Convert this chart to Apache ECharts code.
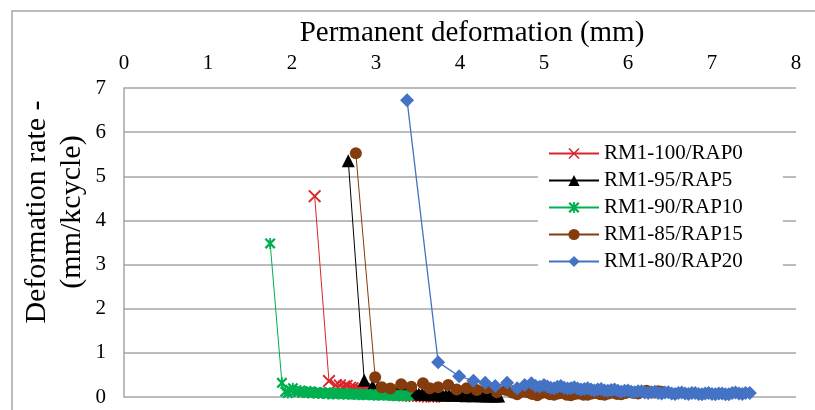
<!DOCTYPE html>
<html>
<head>
<meta charset="utf-8">
<script src="https://cdn.jsdelivr.net/npm/echarts@6/dist/echarts.min.js"></script>
<style>
  html, body { margin: 0; padding: 0; background: #fff; }
  #chart { width: 815px; height: 410px; }
</style>
</head>
<body>
<div id="chart"></div>
<script>
// series names (legend order)
const seriesNames = ['RM1-100/RAP0', 'RM1-95/RAP5', 'RM1-90/RAP10', 'RM1-85/RAP15', 'RM1-80/RAP20'];
const xTicks = [0, 1, 2, 3, 4, 5, 6, 7, 8];
const yTicks = [0, 1, 2, 3, 4, 5, 6, 7];

// [permanent deformation (mm), deformation rate (mm/kcycle)]
const rap0 = [[2.27,4.55],[2.44,0.36],[2.52,0.27],[2.57,0.26],[2.62,0.24],[2.65,0.25],[2.69,0.21],[2.72,0.2],[2.76,0.19],[2.8,0.17],[2.83,0.16],[2.87,0.14],[2.9,0.13],[2.94,0.12],[2.98,0.11],[3.02,0.1],[3.06,0.09],[3.1,0.08],[3.14,0.08],[3.18,0.07],[3.22,0.06],[3.26,0.05],[3.3,0.05],[3.34,0.04],[3.38,0.04],[3.42,0.03],[3.46,0.03],[3.5,0.03],[3.54,0.02],[3.58,0.02],[3.62,0.01],[3.66,0.01],[3.69,0.01]];
const rap5 = [[2.67,5.35],[2.86,0.38],[2.96,0.25],[3.02,0.21],[3.07,0.18],[3.11,0.16],[3.15,0.15],[3.19,0.14],[3.23,0.12],[3.27,0.11],[3.31,0.1],[3.35,0.1],[3.39,0.09],[3.43,0.08],[3.47,0.08],[3.51,0.07],[3.55,0.07],[3.59,0.06],[3.63,0.06],[3.67,0.06],[3.71,0.05],[3.75,0.05],[3.79,0.05],[3.83,0.04],[3.87,0.05],[3.91,0.04],[3.95,0.05],[3.99,0.04],[4.03,0.04],[4.07,0.03],[4.11,0.04],[4.15,0.03],[4.19,0.04],[4.23,0.03],[4.27,0.03],[4.31,0.02],[4.35,0.03],[4.39,0.02],[4.43,0.02],[4.46,0.02]];
const rap10 = [[1.74,3.48],[1.88,0.32],[1.92,0.12],[1.95,0.09],[1.98,0.16],[2.01,0.2],[2.04,0.13],[2.07,0.11],[2.1,0.15],[2.13,0.1],[2.16,0.12],[2.19,0.09],[2.22,0.13],[2.25,0.09],[2.28,0.11],[2.31,0.08],[2.34,0.1],[2.37,0.08],[2.4,0.1],[2.43,0.07],[2.46,0.09],[2.49,0.07],[2.52,0.09],[2.55,0.07],[2.58,0.08],[2.61,0.06],[2.64,0.08],[2.67,0.06],[2.7,0.07],[2.73,0.06],[2.76,0.07],[2.79,0.05],[2.82,0.06],[2.85,0.05],[2.88,0.06],[2.91,0.05],[2.94,0.06],[2.97,0.04],[3.0,0.05],[3.03,0.04],[3.06,0.05],[3.09,0.04],[3.12,0.05],[3.15,0.04],[3.18,0.04],[3.21,0.03],[3.24,0.04],[3.27,0.03],[3.3,0.04],[3.33,0.03],[3.36,0.03],[3.39,0.03]];
const rap15 = [[2.76,5.52],[2.99,0.45],[3.07,0.22],[3.17,0.19],[3.3,0.29],[3.42,0.23],[3.56,0.31],[3.64,0.2],[3.74,0.22],[3.86,0.27],[3.96,0.17],[4.08,0.2],[4.2,0.16],[4.32,0.2],[4.44,0.11],[4.55,0.16],[4.62,0.1],[4.68,0.06],[4.74,0.12],[4.8,0.11],[4.86,0.07],[4.92,0.04],[4.97,0.09],[5.02,0.1],[5.07,0.06],[5.12,0.05],[5.17,0.08],[5.22,0.09],[5.27,0.05],[5.32,0.04],[5.37,0.07],[5.42,0.08],[5.47,0.05],[5.52,0.05],[5.57,0.08],[5.62,0.09],[5.67,0.06],[5.72,0.05],[5.77,0.08],[5.82,0.1],[5.87,0.07],[5.92,0.06],[5.97,0.09],[6.02,0.11],[6.07,0.09],[6.12,0.08],[6.17,0.12],[6.22,0.14],[6.27,0.11],[6.32,0.1],[6.36,0.13],[6.4,0.12]];
const rap20 = [[3.37,6.72],[3.74,0.79],[3.99,0.47],[4.16,0.37],[4.3,0.32],[4.42,0.25],[4.56,0.32],[4.68,0.2],[4.77,0.27],[4.85,0.31],[4.9,0.25],[4.95,0.23],[5.0,0.27],[5.04,0.24],[5.08,0.21],[5.12,0.2],[5.16,0.23],[5.2,0.25],[5.24,0.21],[5.28,0.19],[5.32,0.2],[5.36,0.22],[5.4,0.19],[5.44,0.17],[5.48,0.18],[5.52,0.2],[5.56,0.17],[5.6,0.15],[5.64,0.17],[5.68,0.18],[5.72,0.15],[5.76,0.14],[5.8,0.16],[5.84,0.17],[5.88,0.14],[5.92,0.12],[5.96,0.14],[6.0,0.15],[6.04,0.12],[6.08,0.11],[6.12,0.13],[6.16,0.13],[6.2,0.1],[6.24,0.09],[6.28,0.11],[6.32,0.12],[6.36,0.09],[6.4,0.08],[6.44,0.1],[6.48,0.11],[6.52,0.08],[6.56,0.07],[6.6,0.09],[6.64,0.1],[6.68,0.08],[6.72,0.07],[6.76,0.09],[6.8,0.09],[6.84,0.07],[6.88,0.06],[6.92,0.08],[6.96,0.09],[7.0,0.07],[7.04,0.06],[7.08,0.08],[7.12,0.08],[7.16,0.06],[7.2,0.06],[7.24,0.09],[7.28,0.1],[7.32,0.08],[7.36,0.07],[7.4,0.09],[7.45,0.09]];

const FONT = "'Liberation Serif', 'Times New Roman', serif";
const crossPath = 'path://M0,1L1,0L5,4L9,0L10,1L6,5L10,9L9,10L5,6L1,10L0,9L4,5Z';
const starPath = 'path://M0,1.5L1.5,0L5,3.5L8.5,0L10,1.5L6.5,5L10,8.5L8.5,10L5,6.5L1.5,10L0,8.5L3.5,5Z M4.2,0L5.8,0L5.8,10L4.2,10Z';

function lineSeries(name, data, color, symbol, size, width, z) {
  return {
    name: name,
    type: 'line',
    data: data,
    symbol: symbol,
    symbolSize: size,
    showAllSymbol: true,
    z: z,
    lineStyle: { color: color, width: width },
    itemStyle: { color: color },
    emphasis: { disabled: true },
    animation: false,
  };
}

const chart = echarts.init(document.getElementById('chart'));
chart.setOption({
  animation: false,
  grid: { left: 124, right: 19, top: 88, bottom: 13 },
  graphic: [
    {
      type: 'rect',
      shape: { x: 12, y: 11, width: 830, height: 430 },
      style: { fill: 'none', stroke: '#a6a6a6', lineWidth: 1.5 },
      silent: true,
    },
    {
      type: 'text',
      x: 472, y: 33,
      style: { text: 'Permanent deformation (mm)', font: '29px ' + FONT, fill: '#000',
        align: 'center', verticalAlign: 'middle' },
    },
    {
      type: 'text',
      x: 20, y: 212,
      rotation: Math.PI / 2,
      style: {
        text: 'Deformation rate -\n(mm/kcycle)',
        font: '30px ' + FONT, fill: '#000',
        align: 'center', verticalAlign: 'top', lineHeight: 35,
      },
    },
  ],
  legend: {
    orient: 'vertical',
    left: 538, top: 135,
    padding: [8, 40, 8, 10],
    backgroundColor: '#fff',
    itemWidth: 50, itemHeight: 14, itemGap: 6,
    textStyle: { fontFamily: FONT, fontSize: 21, lineHeight: 20, color: '#000' },
    data: seriesNames,
  },
  xAxis: {
    type: 'value',
    position: 'top',
    min: 0, max: 8, interval: 1,
    axisLine: { show: false },
    axisTick: { show: false },
    splitLine: { show: false },
    axisLabel: { fontFamily: FONT, fontSize: 21, color: '#000', margin: 14,
      formatter: (v) => xTicks.includes(v) ? String(v) : '' },
  },
  yAxis: {
    type: 'value',
    min: 0, max: 7, interval: 1,
    axisLine: { show: true, lineStyle: { color: '#a6a6a6', width: 1.5 } },
    axisTick: { show: false },
    splitLine: { show: true, lineStyle: { color: '#a6a6a6', width: 1.5 } },
    axisLabel: { fontFamily: FONT, fontSize: 21, color: '#000', margin: 18,
      formatter: (v) => yTicks.includes(v) ? String(v) : '' },
  },
  series: [
    lineSeries(seriesNames[0], rap0, '#d9262b', crossPath, 13, 1, 2),
    lineSeries(seriesNames[1], rap5, '#000000', 'triangle', 13, 1, 3),
    lineSeries(seriesNames[2], rap10, '#00b050', starPath, 11, 1, 4),
    lineSeries(seriesNames[3], rap15, '#843c0c', 'circle', 12, 1, 5),
    lineSeries(seriesNames[4], rap20, '#4472c4', 'diamond', 14, 1.3, 6),
  ],
});
</script>
</body>
</html>
